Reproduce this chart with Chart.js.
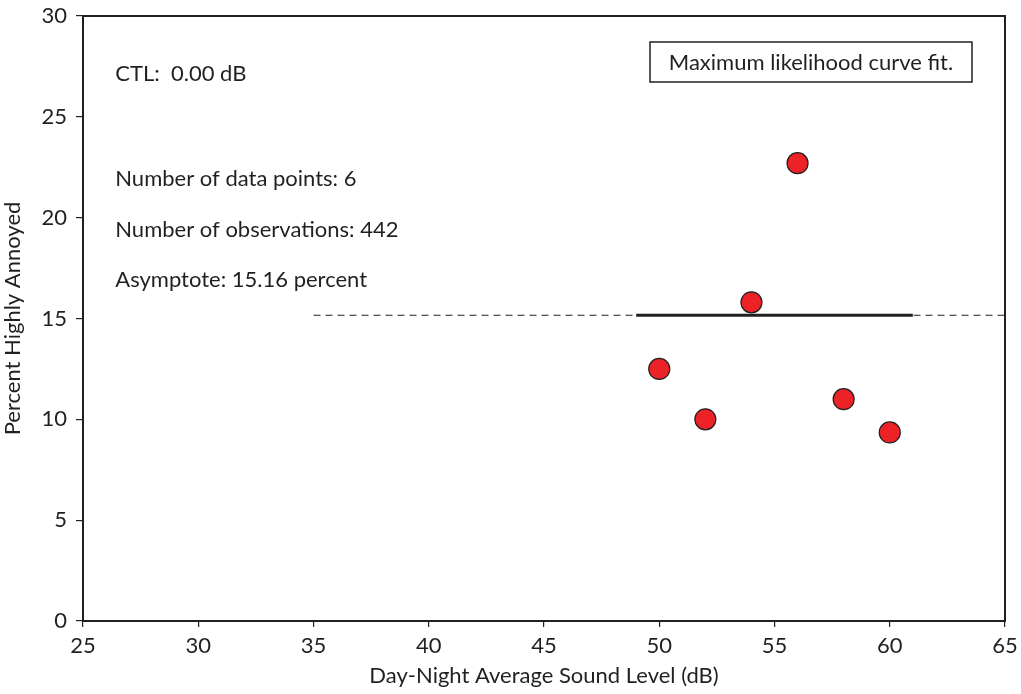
<!DOCTYPE html>
<html>
<head>
<meta charset="utf-8">
<script src="https://cdn.jsdelivr.net/npm/chart.js@4.4.1/dist/chart.umd.min.js"></script>
<style>
  html, body { margin: 0; padding: 0; background: #ffffff; }
  #wrap { width: 1021px; height: 694px; position: relative; }
</style>
</head>
<body>
<div id="wrap"><canvas id="c" width="1021" height="694"></canvas></div>
<script>
// Survey points: day-night level vs. percent highly annoyed
const soundLevel = [50, 52, 54, 56, 58, 60];
const pctHighlyAnnoyed = [12.5, 10.0, 15.8, 22.7, 11.0, 9.35];

// Fitted asymptote and the ranges where it is drawn
const asymptote = 15.16;
const fitRange = [49, 61];
const extendedRange = [35, 65];

// Axis ticks
const xTicks = [25, 30, 35, 40, 45, 50, 55, 60, 65];
const yTicks = [0, 5, 10, 15, 20, 25, 30];

// Annotation text (y given in data units)
const infoLines = [
  { text: 'CTL:  0.00 dB', y: 27.15 },
  { text: 'Number of data points: 6', y: 21.94 },
  { text: 'Number of observations: 442', y: 19.39 },
  { text: 'Asymptote: 15.16 percent', y: 16.9 }
];
const fitLabel = 'Maximum likelihood curve fit.';

const INK = '#231f20';
const FONT = 'Lato, "Open Sans", sans-serif';
const FSIZE = 22;

const annotations = {
  id: 'annotations',
  afterDraw(chart) {
    const ctx = chart.ctx;
    const a = chart.chartArea;
    const xs = chart.scales.x, ys = chart.scales.y;
    ctx.save();
    // frame around the plot area
    ctx.strokeStyle = INK;
    ctx.lineWidth = 2;
    ctx.strokeRect(a.left, a.top, a.right - a.left, a.bottom - a.top);

    // info text
    ctx.fillStyle = INK;
    ctx.font = FSIZE + 'px ' + FONT;
    ctx.textAlign = 'left';
    ctx.textBaseline = 'middle';
    const tx = xs.getPixelForValue(26.4);
    infoLines.forEach(l => ctx.fillText(l.text, tx, ys.getPixelForValue(l.y)));

    // boxed label
    const bx0 = 650, by0 = 42, bx1 = 972, by1 = 82;
    ctx.lineWidth = 1.5;
    ctx.strokeRect(bx0, by0, bx1 - bx0, by1 - by0);
    ctx.textAlign = 'center';
    ctx.fillText(fitLabel, (bx0 + bx1) / 2, (by0 + by1) / 2 + 1);
    ctx.restore();
  }
};

new Chart(document.getElementById('c'), {
  type: 'scatter',
  data: {
    datasets: [
      {
        label: 'Observed',
        data: soundLevel.map((x, i) => ({ x, y: pctHighlyAnnoyed[i] })),
        pointRadius: 10.5,
        pointHoverRadius: 10.5,
        pointBackgroundColor: '#ec2227',
        pointBorderColor: INK,
        pointBorderWidth: 1.2,
        showLine: false
      },
      {
        label: 'Fit',
        data: fitRange.map(x => ({ x, y: asymptote })),
        showLine: true,
        borderColor: INK,
        borderWidth: 2.8,
        pointRadius: 0
      },
      {
        label: 'Extended',
        data: extendedRange.map(x => ({ x, y: asymptote })),
        showLine: true,
        borderColor: INK,
        borderWidth: 1.1,
        borderDash: [7, 5],
        pointRadius: 0
      }
    ]
  },
  options: {
    responsive: false,
    animation: false,
    events: [],
    layout: { padding: { top: 16, right: 16, left: 0, bottom: 0 } },
    plugins: { legend: { display: false }, tooltip: { enabled: false } },
    scales: {
      x: {
        type: 'linear',
        min: 25, max: 65,
        afterBuildTicks: s => { s.ticks = xTicks.map(v => ({ value: v })); },
        afterFit: s => { s.height = 73; s.paddingLeft = 0; s.paddingRight = 0; },
        grid: { drawOnChartArea: false, drawTicks: true, tickLength: 6, color: INK, lineWidth: 1.2 },
        border: { display: true, color: INK, width: 2 },
        ticks: { color: INK, font: { family: FONT, size: FSIZE }, padding: 6, maxRotation: 0 },
        title: { display: true, text: 'Day-Night Average Sound Level (dB)', color: INK,
                 font: { family: FONT, size: FSIZE }, padding: { top: 0, bottom: 5 } }
      },
      y: {
        type: 'linear',
        min: 0, max: 30,
        afterBuildTicks: s => { s.ticks = yTicks.map(v => ({ value: v })); },
        afterFit: s => { s.width = 83; s.paddingTop = 0; s.paddingBottom = 0; },
        grid: { drawOnChartArea: false, drawTicks: true, tickLength: 7, color: INK, lineWidth: 1.2 },
        border: { display: true, color: INK, width: 2 },
        ticks: { color: INK, font: { family: FONT, size: FSIZE }, padding: 9 },
        title: { display: true, text: 'Percent Highly Annoyed', color: INK,
                 font: { family: FONT, size: FSIZE }, padding: { top: 0, bottom: 0 } }
      }
    }
  },
  plugins: [annotations]
});
</script>
</body>
</html>
